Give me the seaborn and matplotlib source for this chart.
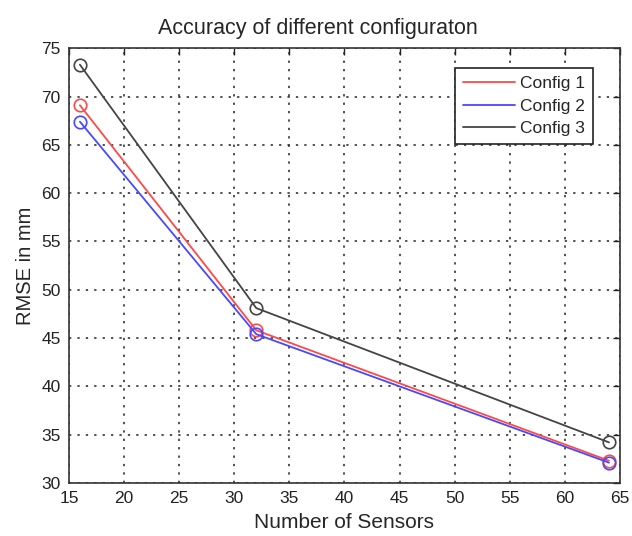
import matplotlib
matplotlib.use("Agg")
import matplotlib.pyplot as plt
from matplotlib.lines import Line2D
import seaborn as sns
import pandas as pd

sensors = [16, 32, 64]
config1 = [69.1, 45.8, 32.3]
config2 = [67.4, 45.4, 32.1]
config3 = [73.3, 48.1, 34.2]
series_names = ["Config 1", "Config 2", "Config 3"]
colors = ["#ff4848", "#4848ff", "#444444"]

xticks = list(range(15, 66, 5))
yticks = list(range(30, 76, 5))

sns.set_style("white")
plt.rcParams["font.family"] = ["Liberation Sans", "DejaVu Sans"]

fig = plt.figure(figsize=(6.32, 5.36), dpi=100)
ax = fig.add_axes([0.109, 0.099, 0.872, 0.811])

for vals, c in zip([config1, config2, config3], colors):
    d = pd.DataFrame({"x": sensors, "y": vals})
    sns.lineplot(data=d, x="x", y="y", ax=ax, color=c,
                 marker="o", markersize=9, markerfacecolor="none",
                 markeredgecolor=c, markeredgewidth=1.2, linewidth=1.3,
                 sort=False)

ax.set_xlim(15, 65)
ax.set_ylim(30, 75)
ax.set_xticks(xticks)
ax.set_yticks(yticks)
ax.tick_params(direction="in", top=True, right=True, labelsize=12.5,
               length=5, width=1, colors="#222222", pad=6)
ax.grid(True, linestyle=(0, (1.5, 4)), color="#222222", linewidth=1.1)
for s in ax.spines.values():
    s.set_color("#333333")
    s.set_linewidth(1.2)

ax.set_xlabel("Number of Sensors", fontsize=15, labelpad=5)
ax.set_ylabel("RMSE in mm", fontsize=14.5, labelpad=4)
ax.set_title("Accuracy of different configuraton", fontsize=15.5, pad=10, x=0.452)

handles = [Line2D([], [], color=c, linewidth=1.3) for c in colors]
leg = ax.legend(handles, series_names, loc="upper right", bbox_to_anchor=(0.951, 0.954),
                borderaxespad=0, fontsize=12.5, frameon=True, fancybox=False,
                handlelength=3.0, handletextpad=0.3, labelspacing=0.42,
                borderpad=0.45, edgecolor="#222222", framealpha=1)
leg.get_frame().set_linewidth(1.2)

fig.savefig("out.png", dpi=100)
